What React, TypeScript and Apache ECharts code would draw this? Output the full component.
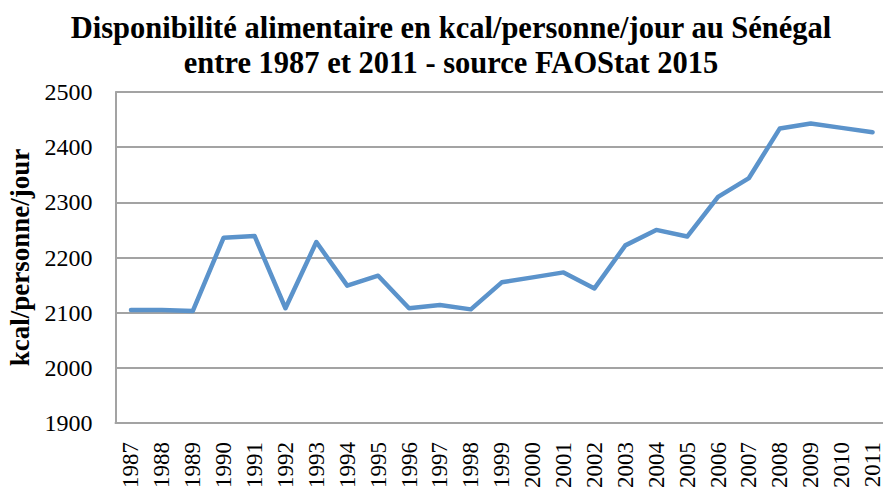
import React, { useEffect, useRef } from "react";
import * as echarts from "echarts";

const years = [
  "1987", "1988", "1989", "1990", "1991", "1992", "1993", "1994", "1995", "1996",
  "1997", "1998", "1999", "2000", "2001", "2002", "2003", "2004", "2005", "2006",
  "2007", "2008", "2009", "2010", "2011",
];
const kcal = [
  2105, 2105, 2103, 2236, 2239, 2108, 2228, 2149, 2167, 2108,
  2114, 2106, 2155, 2164, 2173, 2144, 2222, 2250, 2238, 2310,
  2344, 2434, 2443, 2435, 2427,
];
const titleLines = [
  "Disponibilité alimentaire en kcal/personne/jour au Sénégal",
  "entre 1987 et 2011 - source FAOStat 2015",
];
const yAxisName = "kcal/personne/jour";

const FONT = "'Liberation Serif', 'Times New Roman', serif";

export default function App() {
  const ref = useRef<HTMLDivElement>(null);
  useEffect(() => {
    document.body.style.margin = "0";
    const chart = echarts.init(ref.current!, null, { renderer: "svg" });
    chart.setOption({
      animation: false,
      backgroundColor: "#ffffff",
      title: {
        text: titleLines.join("\n"),
        left: 446,
        textAlign: "center",
        top: 5,
        textStyle: {
          fontFamily: FONT,
          fontWeight: "bold",
          fontSize: 30.5,
          lineHeight: 35,
          color: "#000",
        },
      },
      grid: {
        left: 115.5,
        top: 92,
        width: 772.5,
        height: 331,
        containLabel: false,
        outerBoundsMode: "none",
      },
      xAxis: {
        type: "category",
        data: years,
        boundaryGap: true,
        axisLine: { show: true, lineStyle: { color: "#a3a3a3", width: 2 } },
        axisTick: { show: false },
        axisLabel: {
          rotate: 90,
          interval: 0,
          margin: 19,
          lineHeight: 17,
          fontFamily: FONT,
          fontSize: 23,
          color: "#000",
        },
      },
      yAxis: {
        type: "value",
        min: 1900,
        max: 2500,
        interval: 100,
        name: yAxisName,
        nameLocation: "middle",
        nameGap: 79,
        nameTextStyle: {
          fontFamily: FONT,
          fontWeight: "bold",
          fontSize: 27,
          color: "#000",
        },
        axisLine: { show: true, lineStyle: { color: "#a3a3a3", width: 2 } },
        axisTick: { show: false },
        splitLine: { show: true, lineStyle: { color: "#a3a3a3", width: 2 } },
        axisLabel: {
          margin: 23,
          fontFamily: FONT,
          fontSize: 24,
          color: "#000",
          formatter: (v: number) => String(v),
        },
      },
      series: [
        {
          type: "line",
          data: kcal,
          symbol: "none",
          lineStyle: { color: "#5b93cb", width: 4.5, cap: "round", join: "round" },
        },
      ],
    });
    return () => chart.dispose();
  }, []);
  return <div ref={ref} style={{ width: 883, height: 488 }} />;
}
